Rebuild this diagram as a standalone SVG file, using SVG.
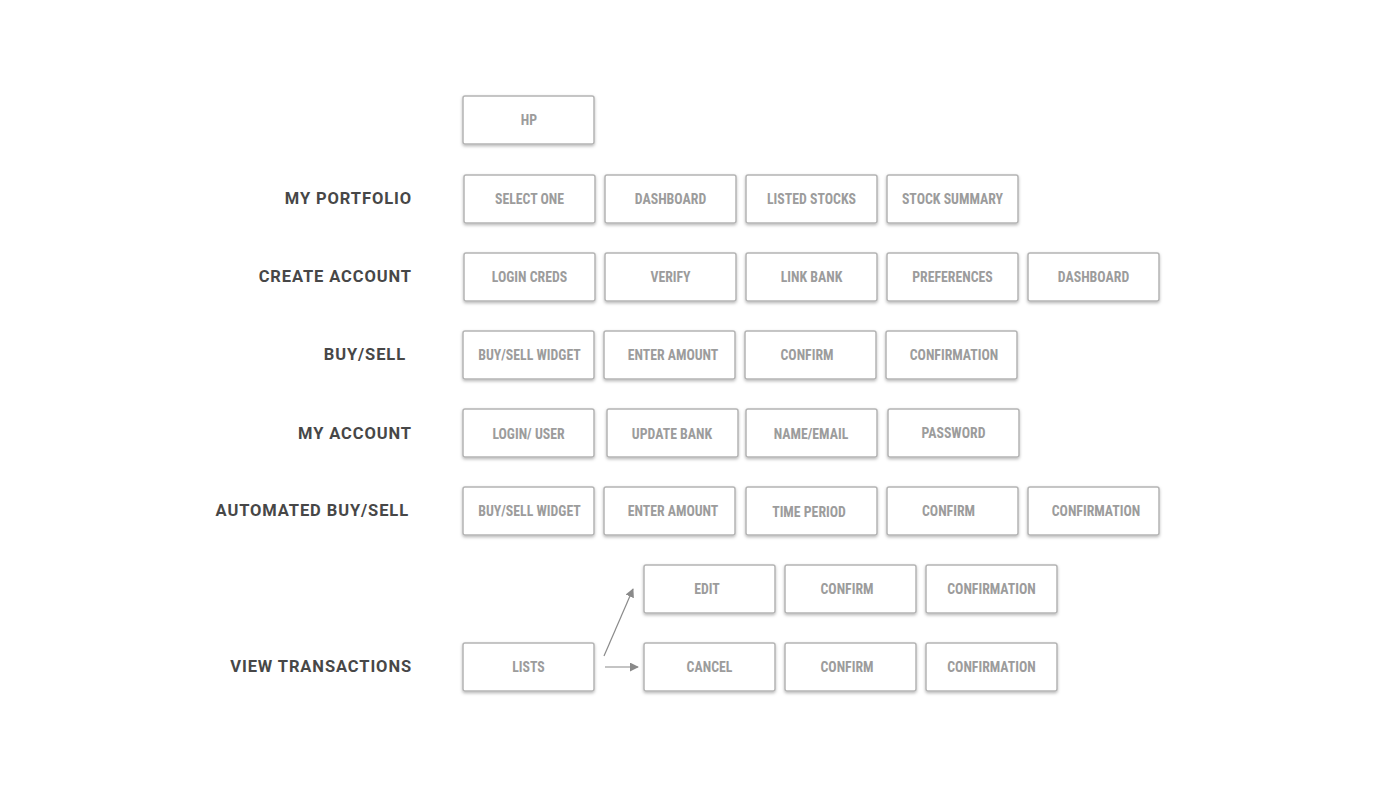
<svg xmlns="http://www.w3.org/2000/svg" width="1381" height="800" viewBox="0 0 1381 800">
  <defs>
    <filter id="shadow" x="-10%" y="-20%" width="120%" height="150%">
      <feDropShadow dx="0" dy="1.5" stdDeviation="1.6" flood-color="#000" flood-opacity="0.28"/>
    </filter>
    <marker id="arrow" viewBox="0 0 10 10" refX="9" refY="5" markerWidth="9" markerHeight="9" markerUnits="userSpaceOnUse" orient="auto">
      <path d="M0,0 L10,5 L0,10 Z" fill="#8a8a8a"/>
    </marker>
  </defs>
  <style>
    .box rect { fill: #fff; stroke: #b4b4b4; stroke-width: 1.5; filter: url(#shadow); }
    .box text { font-family: "Liberation Sans Narrow", "Roboto Condensed", "Roboto", sans-serif; font-size: 13.8px; font-weight: 700; fill: #9c9c9c; text-anchor: middle; }
    .lbl { font-family: "Roboto", "Liberation Sans", sans-serif; font-size: 16.5px; font-weight: 700; fill: #474747; text-anchor: end; letter-spacing: 0.9px; }
    .conn line { stroke: #8a8a8a; stroke-width: 1.2; fill: none; }
  </style>
  <rect width="1381" height="800" fill="#fff"/>

  <!-- section labels -->
  <g id="labels">
    <text class="lbl" x="412" y="204">MY PORTFOLIO</text>
    <text class="lbl" x="412" y="282">CREATE ACCOUNT</text>
    <text class="lbl" x="406" y="360">BUY/SELL</text>
    <text class="lbl" x="412" y="439">MY ACCOUNT</text>
    <text class="lbl" x="409" y="516">AUTOMATED BUY/SELL</text>
    <text class="lbl" x="412" y="672">VIEW TRANSACTIONS</text>
  </g>

  <g id="hp" class="box"><rect x="463" y="96" width="131" height="48" rx="2"/><text x="529" y="125">HP</text></g>

  <!-- my portfolio -->
  <g id="pf-select" class="box"><rect x="464" y="175" width="131" height="48" rx="2"/><text x="529.5" y="204">SELECT ONE</text></g>
  <g id="pf-dashboard" class="box"><rect x="605" y="175" width="131" height="48" rx="2"/><text x="670.5" y="204">DASHBOARD</text></g>
  <g id="pf-listed" class="box"><rect x="746" y="175" width="131" height="48" rx="2"/><text x="811.5" y="204">LISTED STOCKS</text></g>
  <g id="pf-summary" class="box"><rect x="887" y="175" width="131" height="48" rx="2"/><text x="952.5" y="204">STOCK SUMMARY</text></g>

  <!-- create account -->
  <g id="ca-login" class="box"><rect x="464" y="253" width="131" height="48" rx="2"/><text x="529.5" y="282">LOGIN CREDS</text></g>
  <g id="ca-verify" class="box"><rect x="605" y="253" width="131" height="48" rx="2"/><text x="670.5" y="282">VERIFY</text></g>
  <g id="ca-bank" class="box"><rect x="746" y="253" width="131" height="48" rx="2"/><text x="811.5" y="282">LINK BANK</text></g>
  <g id="ca-prefs" class="box"><rect x="887" y="253" width="131" height="48" rx="2"/><text x="952.5" y="282">PREFERENCES</text></g>
  <g id="ca-dashboard" class="box"><rect x="1028" y="253" width="131" height="48" rx="2"/><text x="1093.5" y="282">DASHBOARD</text></g>

  <!-- buy/sell -->
  <g id="bs-widget" class="box"><rect x="463" y="331" width="131" height="48" rx="2"/><text x="529.5" y="360">BUY/SELL WIDGET</text></g>
  <g id="bs-amount" class="box"><rect x="604" y="331" width="131" height="48" rx="2"/><text x="673" y="360">ENTER AMOUNT</text></g>
  <g id="bs-confirm" class="box"><rect x="745" y="331" width="131" height="48" rx="2"/><text x="807" y="360">CONFIRM</text></g>
  <g id="bs-confirmation" class="box"><rect x="886" y="331" width="131" height="48" rx="2"/><text x="954" y="360">CONFIRMATION</text></g>

  <!-- my account -->
  <g id="ma-login" class="box"><rect x="463" y="409" width="131" height="48" rx="2"/><text x="528.5" y="439">LOGIN/ USER</text></g>
  <g id="ma-bank" class="box"><rect x="607" y="409" width="131" height="48" rx="2"/><text x="672" y="439">UPDATE BANK</text></g>
  <g id="ma-name" class="box"><rect x="746" y="409" width="131" height="48" rx="2"/><text x="811" y="439">NAME/EMAIL</text></g>
  <g id="ma-password" class="box"><rect x="888" y="409" width="131" height="48" rx="2"/><text x="953.5" y="438">PASSWORD</text></g>

  <!-- automated buy/sell -->
  <g id="ab-widget" class="box"><rect x="463" y="487" width="131" height="48" rx="2"/><text x="529.5" y="516">BUY/SELL WIDGET</text></g>
  <g id="ab-amount" class="box"><rect x="604" y="487" width="131" height="48" rx="2"/><text x="673" y="516">ENTER AMOUNT</text></g>
  <g id="ab-period" class="box"><rect x="746" y="487" width="131" height="48" rx="2"/><text x="809" y="517">TIME PERIOD</text></g>
  <g id="ab-confirm" class="box"><rect x="887" y="487" width="131" height="48" rx="2"/><text x="948.5" y="516">CONFIRM</text></g>
  <g id="ab-confirmation" class="box"><rect x="1028" y="487" width="131" height="48" rx="2"/><text x="1096" y="516">CONFIRMATION</text></g>

  <!-- view transactions -->
  <g id="vt-edit" class="box"><rect x="644" y="565" width="131" height="48" rx="2"/><text x="707" y="594">EDIT</text></g>
  <g id="vt-edit-confirm" class="box"><rect x="785" y="565" width="131" height="48" rx="2"/><text x="847" y="594">CONFIRM</text></g>
  <g id="vt-edit-confirmation" class="box"><rect x="926" y="565" width="131" height="48" rx="2"/><text x="991.5" y="594">CONFIRMATION</text></g>
  <g id="vt-lists" class="box"><rect x="463" y="643" width="131" height="48" rx="2"/><text x="528.5" y="672">LISTS</text></g>
  <g id="vt-cancel" class="box"><rect x="644" y="643" width="131" height="48" rx="2"/><text x="709.5" y="672">CANCEL</text></g>
  <g id="vt-cancel-confirm" class="box"><rect x="785" y="643" width="131" height="48" rx="2"/><text x="847" y="672">CONFIRM</text></g>
  <g id="vt-cancel-confirmation" class="box"><rect x="926" y="643" width="131" height="48" rx="2"/><text x="991.5" y="672">CONFIRMATION</text></g>

  <g id="connectors" class="conn">
    <line x1="604" y1="656" x2="633" y2="589" marker-end="url(#arrow)"/>
    <line x1="605" y1="667" x2="638" y2="667" marker-end="url(#arrow)"/>
  </g>
</svg>
